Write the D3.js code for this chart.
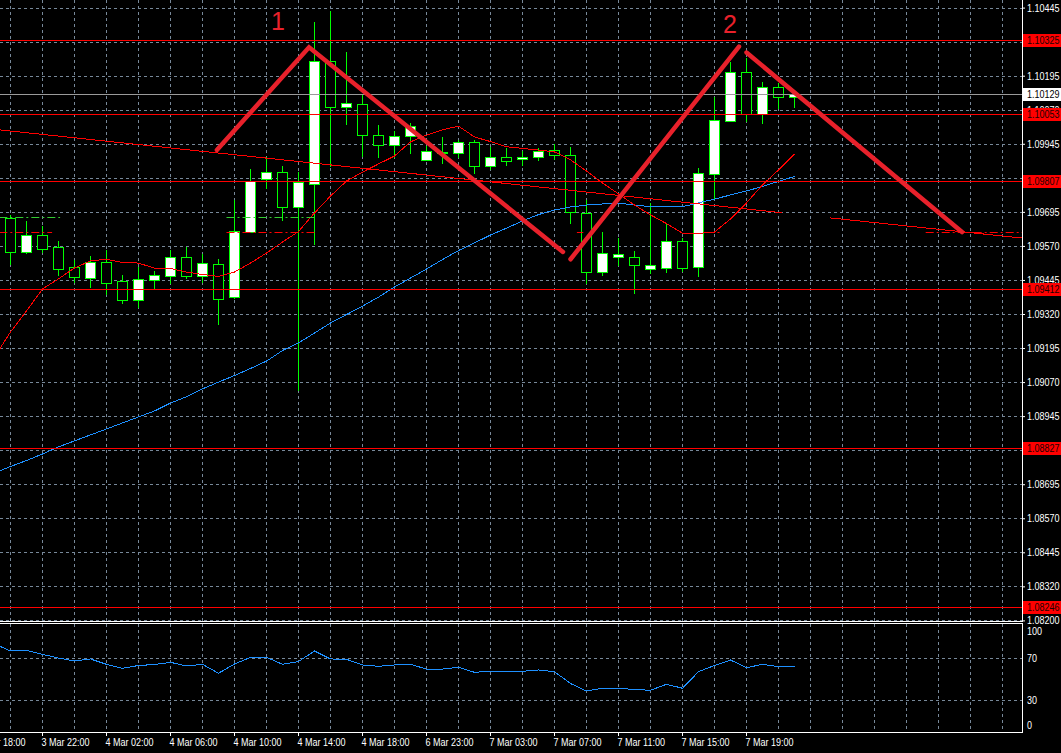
<!DOCTYPE html>
<html><head><meta charset="utf-8">
<script src="https://cdn.jsdelivr.net/npm/d3@7"></script>
<style>
html,body{margin:0;padding:0;background:#000;}
svg{display:block;}
text{font-family:'Liberation Sans',Arial,sans-serif;font-size:11px;}
</style></head><body>
<svg id="c" width="1061" height="753"></svg>
<script>
// ---------- DATA ----------
const open  = [1.09671,1.09549,1.09609,1.09565,1.09492,1.09453,1.09510,1.09440,1.09370,1.09446,
               1.09461,1.09528,1.09461,1.09503,1.09381,1.09620,1.09815,1.09840,1.09712,1.09796,
               1.10248,1.10079,1.10090,1.09976,1.09940,1.09973,1.09884,1.09912,1.09910,1.09950,
               1.09862,1.09895,1.09888,1.09895,1.09921,1.09903,1.09690,1.09475,1.09528,1.09528,
               1.09486,1.09488,1.09588,1.09494,1.09833,1.10030,1.10207,1.10053,1.10155,1.10116];
const high  = [1.09684,1.09661,1.09643,1.09588,1.09518,1.09533,1.09555,1.09463,1.09493,1.09478,
               1.09555,1.09566,1.09540,1.09522,1.09739,1.09851,1.09895,1.09865,1.09843,1.10391,
               1.10433,1.10281,1.10127,1.10014,1.09993,1.10021,1.09938,1.09971,1.09959,1.09959,
               1.09934,1.09931,1.09918,1.09928,1.09944,1.09934,1.09739,1.09622,1.09598,1.09552,
               1.09729,1.09653,1.09598,1.09855,1.10118,1.10246,1.10259,1.10173,1.10167,1.10142];
const low   = [1.09502,1.09545,1.09547,1.09463,1.09438,1.09420,1.09392,1.09361,1.09347,1.09415,
               1.09435,1.09451,1.09436,1.09282,1.09379,1.09620,1.09782,1.09665,1.09041,1.09576,
               1.09865,1.10017,1.09900,1.09895,1.09898,1.09910,1.09884,1.09876,1.09895,1.09837,
               1.09851,1.09867,1.09867,1.09885,1.09888,1.09655,1.09435,1.09463,1.09500,1.09396,
               1.09472,1.09475,1.09479,1.09460,1.09745,1.10030,1.10030,1.10022,1.10075,1.10081];
const close = [1.09549,1.09609,1.09558,1.09486,1.09455,1.09510,1.09435,1.09370,1.09447,1.09462,
               1.09528,1.09460,1.09506,1.09376,1.09625,1.09810,1.09840,1.09712,1.09804,1.10248,
               1.10081,1.10094,1.09976,1.09940,1.09973,1.10011,1.09917,1.09914,1.09950,1.09862,
               1.09895,1.09883,1.09897,1.09917,1.09903,1.09693,1.09475,1.09543,1.09540,1.09500,
               1.09499,1.09588,1.09490,1.09837,1.10032,1.10207,1.10053,1.10155,1.10116,1.10128];

// indicator series start one bar before the first visible candle
const indStart = -1;
const maRed  = [1.09162,1.09254,1.09331,1.09412,1.09449,1.09489,1.09515,1.09521,1.09509,1.09507,
                1.09488,1.09487,1.09474,1.09465,1.09458,1.09474,1.09507,1.09544,1.09584,1.09623,
                1.09691,1.09753,1.09808,1.09841,1.09871,1.09900,1.09952,1.09977,1.09996,1.10010,
                1.09970,1.09953,1.09934,1.09928,1.09922,1.09915,1.09886,1.09845,1.09801,1.09761,
                1.09720,1.09684,1.09652,1.09617,1.09616,1.09621,1.09669,1.09728,1.09794,1.09849,1.09908];
const maBlue = [1.08736,1.08760,1.08782,1.08806,1.08832,1.08854,1.08876,1.08898,1.08920,1.08942,
                1.08964,1.08993,1.09016,1.09045,1.09070,1.09094,1.09120,1.09147,1.09186,1.09214,
                1.09250,1.09287,1.09318,1.09349,1.09382,1.09419,1.09452,1.09485,1.09520,1.09553,
                1.09581,1.09610,1.09635,1.09662,1.09685,1.09702,1.09713,1.09720,1.09724,1.09727,
                1.09720,1.09714,1.09714,1.09714,1.09728,1.09742,1.09757,1.09772,1.09788,1.09807,1.09825];
const rsi    = [82.9,76.2,76.9,73.0,69.5,66.7,68.6,63.5,59.7,62.4,
                63.3,65.4,61.9,63.5,55.0,63.8,70.2,70.2,63.5,66.2,
                76.2,68.6,68.3,62.9,61.6,62.9,63.5,59.0,59.0,60.7,
                55.9,56.9,56.9,56.9,58.1,56.5,45.2,38.1,40.7,40.7,
                39.5,38.8,44.5,40.7,56.5,62.4,67.6,60.3,63.5,61.2,61.2];

// axis ticks (labels fully covered by level tags in the original are left blank)
const priceTicks = [1.10445,1.10320,1.10195,1.10070,1.09945,1.09820,1.09695,1.09570,1.09445,1.09320,
                    1.09195,1.09070,1.08945,1.08820,1.08695,1.08570,1.08445,1.08320,1.08195];
const priceTickLabels = ["1.10445","","1.10195","1.10070","1.09945","","1.09695","1.09570","1.09445","1.09320",
                         "1.09195","1.09070","1.08945","","1.08695","1.08570","1.08445","1.08320","1.08200"];
const timeTickBars = [-2,2,6,10,14,18,22,26,30,34,38,42,46];
const timeTickLabels = ["3 Mar 18:00","3 Mar 22:00","4 Mar 02:00","4 Mar 06:00","4 Mar 10:00","4 Mar 14:00",
                        "4 Mar 18:00","6 Mar 23:00","7 Mar 03:00","7 Mar 07:00","7 Mar 11:00","7 Mar 15:00","7 Mar 19:00"];
const rsiTicks = [100,70,30,0];
const rsiGrid = [70,30];

// horizontal levels
const levelPrices = [1.10325,1.10053,1.09807,1.09412,1.08827,1.08246];
const bidPrice = 1.10129;

// drawn objects: zigzag pattern lines [bar, price]
const zigA = [[12.9,1.09922],[18.66,1.10299],[34.53,1.09548]];
const zigC = [[35.0,1.09521],[45.53,1.10302]];
const zigD = [[46.0,1.10280],[59.47,1.09621]];
const zigLabels = ["1","2"];
const zigLabelBars = [16.72,44.97];
const zigLabelPrices = [1.10363,1.10352];
// thin trendline (two visible pieces)
const trendSegs = [[[-0.66,1.09996],[48.2,1.09692]],[[51.2,1.09673],[63.2,1.09599]]];
// dashed marker lines
const dashPrices = [1.09676,1.09621];
const dashRanges = [[[-0.7,3.1],[13.5,19.0]],
                    [[-0.7,2.6],[13.5,19.0],[35.4,35.8],[43.5,44.5],[57.2,63.3]]];

// ---------- LAYOUT ----------
const W=1061,H=753, AX=1022, MAIN_B=621, IND_T=624, IND_B=732;
const GRID='#778899', LIME='#00ff00', ZZ='#e8212b';
const NARROW=0.82;
const svg=d3.select('#c');
svg.append('rect').attr('width',W).attr('height',H).attr('fill','#000');

const x=d3.scaleLinear().domain([0,1]).range([10,26]);
const y=d3.scaleLinear().domain([1.08195,1.10445]).range([620.4,7.6]);
const yr=d3.scaleLinear().domain([0,100]).range([731,626]);
const px=v=>Math.round(v)+0.5;
const cx=k=>x(k)+0.5;
const narrow=sel=>sel.each(function(){
  const t=this.textContent; if(!t) return;
  const w=this.getComputedTextLength();
  this.setAttribute('textLength',(w*NARROW).toFixed(1));
  this.setAttribute('lengthAdjust','spacingAndGlyphs');
});

const defs=svg.append('defs');
defs.append('clipPath').attr('id','cm').append('rect').attr('x',0).attr('y',0).attr('width',AX).attr('height',MAIN_B);
defs.append('clipPath').attr('id','ci').append('rect').attr('x',0).attr('y',IND_T).attr('width',AX).attr('height',IND_B-IND_T);

const gm=svg.append('g').attr('clip-path','url(#cm)');
const gi=svg.append('g').attr('clip-path','url(#ci)');

// grid
const gridBars=d3.range(0,64,2);
gm.selectAll('line.vg').data(gridBars).join('line').attr('class','vg')
  .attr('x1',d=>cx(d)).attr('x2',d=>cx(d)).attr('y1',0).attr('y2',MAIN_B)
  .attr('stroke',GRID).attr('stroke-dasharray','3,3');
gm.selectAll('line.hg').data(priceTicks).join('line').attr('class','hg')
  .attr('x1',0).attr('x2',AX).attr('y1',d=>px(y(d))).attr('y2',d=>px(y(d)))
  .attr('stroke',GRID).attr('stroke-dasharray','3,3');
gi.selectAll('line.vg').data(gridBars).join('line').attr('class','vg')
  .attr('x1',d=>cx(d)).attr('x2',d=>cx(d)).attr('y1',IND_T).attr('y2',IND_B)
  .attr('stroke',GRID).attr('stroke-dasharray','3,3');
gi.selectAll('line.hg').data(rsiGrid).join('line').attr('class','hg')
  .attr('x1',0).attr('x2',AX).attr('y1',d=>px(yr(d))).attr('y2',d=>px(yr(d)))
  .attr('stroke',GRID).attr('stroke-dasharray','3,3');

// candles
const bars=d3.range(open.length);
const cg=gm.append('g');
cg.selectAll('line.w').data(bars).join('line').attr('class','w')
  .attr('x1',k=>cx(k)).attr('x2',k=>cx(k))
  .attr('y1',k=>Math.round(y(high[k]))).attr('y2',k=>Math.round(y(low[k]))+1)
  .attr('stroke',LIME).attr('stroke-width',1);
cg.selectAll('rect.b').data(bars).join('rect').attr('class','b')
  .attr('x',k=>x(k)-4.5).attr('width',10)
  .attr('y',k=>px(y(Math.max(open[k],close[k]))))
  .attr('height',k=>Math.max(0,px(y(Math.min(open[k],close[k])))-px(y(Math.max(open[k],close[k])))))
  .attr('fill',k=>close[k]>=open[k]?'#ffffff':'#000000')
  .attr('stroke',LIME).attr('stroke-width',1).attr('shape-rendering','crispEdges');

// indicator lines (main)
const idx=(arr)=>arr.map((v,i)=>[i+indStart,v]);
const lineP=d3.line().x(d=>cx(d[0])).y(d=>y(d[1]));
gm.append('path').datum(idx(maBlue)).attr('d',lineP).attr('fill','none')
  .attr('stroke','#1e90ff').attr('stroke-width',1).attr('shape-rendering','crispEdges');
gm.append('path').datum(idx(maRed)).attr('d',lineP).attr('fill','none')
  .attr('stroke','#ff0000').attr('stroke-width',1).attr('shape-rendering','crispEdges');

// trend line pieces
gm.selectAll('path.tr').data(trendSegs).join('path').attr('class','tr')
  .attr('d',lineP).attr('fill','none').attr('stroke','#ff0000').attr('stroke-width',1)
  .attr('shape-rendering','crispEdges');

// dashed marker segments
const dashCols=['#33cc33','#ff0000'];
dashPrices.forEach((p,i)=>{
  gm.selectAll('line.d'+i).data(dashRanges[i]).join('line').attr('class','d'+i)
    .attr('x1',r=>cx(r[0])).attr('x2',r=>cx(r[1]))
    .attr('y1',px(y(p))).attr('y2',px(y(p)))
    .attr('stroke',dashCols[i]).attr('stroke-width',1).attr('stroke-dasharray','8,3,2,3');
});

// horizontal levels
gm.selectAll('line.lv').data(levelPrices).join('line').attr('class','lv')
  .attr('x1',0).attr('x2',AX).attr('y1',d=>px(y(d))).attr('y2',d=>px(y(d)))
  .attr('stroke','#ff0000').attr('stroke-width',1);
gm.append('line').attr('x1',0).attr('x2',AX).attr('y1',px(y(bidPrice))).attr('y2',px(y(bidPrice)))
  .attr('stroke','#9a9a9a').attr('stroke-width',1);

// zigzag pattern lines
gm.selectAll('path.zz').data([zigA,zigC,zigD]).join('path').attr('class','zz')
  .attr('d',lineP).attr('fill','none').attr('stroke',ZZ).attr('stroke-width',4.5)
  .attr('stroke-linecap','round').attr('stroke-linejoin','miter');
gm.selectAll('text.zl').data(zigLabels).join('text').attr('class','zl')
  .attr('x',(d,i)=>cx(zigLabelBars[i])).attr('y',(d,i)=>y(zigLabelPrices[i]))
  .attr('text-anchor','middle').attr('fill',ZZ)
  .style('font-family',"'Liberation Sans',Arial,sans-serif").style('font-size','25px')
  .text(d=>d);

// indicator panel line
const lineR=d3.line().x(d=>cx(d[0])).y(d=>yr(d[1]));
gi.append('path').datum(idx(rsi)).attr('d',lineR).attr('fill','none')
  .attr('stroke','#1e90ff').attr('stroke-width',1).attr('shape-rendering','crispEdges');

// frame lines
const fr=svg.append('g').attr('stroke','#ffffff').attr('stroke-width',1).attr('shape-rendering','crispEdges');
fr.append('line').attr('x1',AX+0.5).attr('x2',AX+0.5).attr('y1',0).attr('y2',MAIN_B+1);
fr.append('line').attr('x1',0).attr('x2',AX+1).attr('y1',MAIN_B+0.5).attr('y2',MAIN_B+0.5);
fr.append('line').attr('x1',0).attr('x2',AX+1).attr('y1',IND_T-0.5).attr('y2',IND_T-0.5);
fr.append('line').attr('x1',AX+0.5).attr('x2',AX+0.5).attr('y1',IND_T-1).attr('y2',IND_B+1);
fr.append('line').attr('x1',0).attr('x2',AX+1).attr('y1',IND_B+0.5).attr('y2',IND_B+0.5);

// price axis
const ya=svg.append('g').attr('transform',`translate(${AX},0)`)
  .call(d3.axisRight(y).tickValues(priceTicks).tickFormat((d,i)=>priceTickLabels[i]).tickSize(3).tickPadding(2));
ya.select('.domain').remove();
ya.selectAll('line').attr('stroke','#ffffff');
ya.selectAll('text').attr('fill','#ffffff').style('font-size','11px').style('font-family',"'Liberation Sans',Arial,sans-serif");
narrow(ya.selectAll('text'));

// level labels
const lg=svg.append('g');
levelPrices.forEach(p=>{
  const yy=Math.round(y(p));
  lg.append('rect').attr('x',AX+1).attr('y',yy-6).attr('width',W-AX-1).attr('height',13).attr('fill','#ff0000');
  lg.append('text').attr('x',AX+5).attr('y',yy+0.5).attr('dy','0.35em').attr('fill','#1a0000').text(p.toFixed(5));
});
{
  const yy=Math.round(y(bidPrice));
  lg.append('rect').attr('x',AX+1).attr('y',yy-6).attr('width',W-AX-1).attr('height',13).attr('fill','#ffffff');
  lg.append('text').attr('x',AX+5).attr('y',yy+0.5).attr('dy','0.35em').attr('fill','#000000').text(bidPrice.toFixed(5));
}
narrow(lg.selectAll('text'));

// indicator axis
const ra=svg.append('g').attr('transform',`translate(${AX},0)`)
  .call(d3.axisRight(yr).tickValues(rsiTicks).tickFormat(d3.format('d')).tickSize(0).tickPadding(5));
ra.select('.domain').remove();
ra.selectAll('text').attr('fill','#ffffff').style('font-size','11px').style('font-family',"'Liberation Sans',Arial,sans-serif");
ra.selectAll('.tick').filter(d=>d===100).select('text').attr('dy','0.8em');
ra.selectAll('.tick').filter(d=>d===0).select('text').attr('dy','-0.2em');
narrow(ra.selectAll('text'));

// time axis
const xa=svg.append('g').attr('transform',`translate(0,${IND_B})`)
  .call(d3.axisBottom(x).tickValues(timeTickBars).tickFormat((d,i)=>timeTickLabels[i]).tickSize(4).tickPadding(2));
xa.select('.domain').remove();
xa.selectAll('line').attr('stroke','#ffffff');
xa.selectAll('text').attr('fill','#ffffff').attr('text-anchor','start').attr('dx','-1')
  .style('font-size','11px').style('font-family',"'Liberation Sans',Arial,sans-serif");
narrow(xa.selectAll('text'));
</script>
</body></html>
